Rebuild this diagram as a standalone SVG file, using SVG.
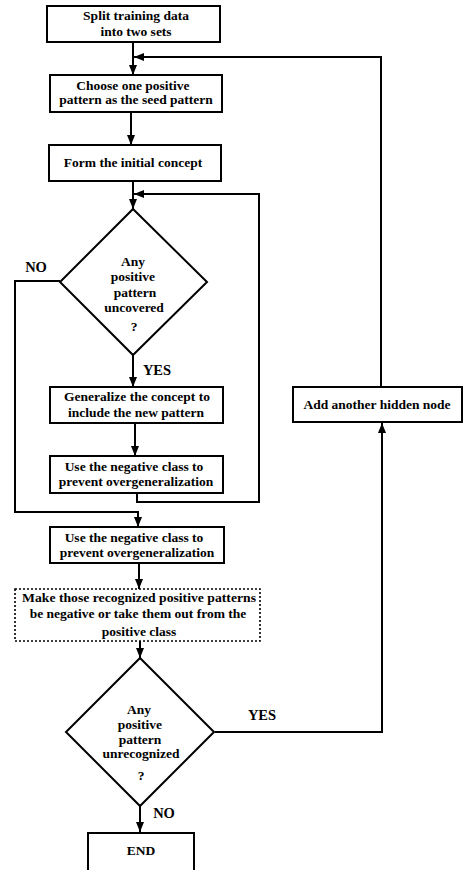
<svg xmlns="http://www.w3.org/2000/svg" width="463" height="870" viewBox="0 0 463 870">
<defs>
<marker id="ah" viewBox="0 0 10 8" refX="10" refY="4" markerWidth="10" markerHeight="8" markerUnits="userSpaceOnUse" orient="auto">
<path d="M0,0 L10,4 L0,8 Z" fill="#000"/>
</marker>
</defs>
<style>
.n{fill:#fff;stroke:#000;stroke-width:2}
.d{fill:#fff;stroke:#000;stroke-width:1.6;stroke-dasharray:2,2}
.c{fill:none;stroke:#000;stroke-width:2}
text{font-family:"Liberation Serif","DejaVu Serif",serif;font-weight:bold;font-size:13.5px;fill:#000;text-anchor:middle}
.lb{font-size:14.5px}
</style>
<rect width="463" height="870" fill="#fff"/>
<g id="connectors">
<path class="c" d="M133,42 V75" marker-end="url(#ah)"/>
<path class="c" d="M381,387 V57 H134" marker-end="url(#ah)"/>
<path class="c" d="M131,112 V145" marker-end="url(#ah)"/>
<path class="c" d="M133,181 V209" marker-end="url(#ah)"/>
<path class="c" d="M137,493 V502 H259 V194 H134" marker-end="url(#ah)"/>
<path class="c" d="M60,281 H15 V512 H138 V527" marker-end="url(#ah)"/>
<path class="c" d="M133,355 V387" marker-end="url(#ah)"/>
<path class="c" d="M135,423 V456" marker-end="url(#ah)"/>
<path class="c" d="M139,563 V589" marker-end="url(#ah)"/>
<path class="c" d="M140,641 V658" marker-end="url(#ah)"/>
<path class="c" d="M215,732 H382 V423" marker-end="url(#ah)"/>
<path class="c" d="M140,806 V832" marker-end="url(#ah)"/>
<text class="lb" x="36" y="272">NO</text>
<text class="lb" x="157" y="375">YES</text>
<text class="lb" x="262" y="720">YES</text>
<text class="lb" x="164" y="818">NO</text>
</g>
<g id="split">
<rect class="n" x="47" y="6" width="173" height="36"/>
<text x="136" y="20">Split training data</text>
<text x="136" y="36">into two sets</text>
</g>
<g id="choose">
<rect class="n" x="50" y="75" width="172" height="37"/>
<text x="133" y="90">Choose one positive</text>
<text x="136" y="104">pattern as the seed pattern</text>
</g>
<g id="form">
<rect class="n" x="49" y="145" width="172" height="36"/>
<text x="133" y="167">Form the initial concept</text>
</g>
<g id="uncovered">
<polygon class="n" points="133,209 207,282 133,355 60,282"/>
<text x="133" y="266">Any</text>
<text x="133" y="281">positive</text>
<text x="135" y="297">pattern</text>
<text x="134" y="312">uncovered</text>
<text x="134" y="331">?</text>
</g>
<g id="generalize">
<rect class="n" x="50" y="387" width="173" height="36"/>
<text x="137" y="401">Generalize the concept to</text>
<text x="136" y="417">include the new pattern</text>
</g>
<g id="negative1">
<rect class="n" x="50" y="456" width="173" height="37"/>
<text x="134" y="471">Use the negative class to</text>
<text x="136" y="486">prevent overgeneralization</text>
</g>
<g id="negative2">
<rect class="n" x="50" y="527" width="174" height="36"/>
<text x="134" y="542">Use the negative class to</text>
<text x="137" y="557">prevent overgeneralization</text>
</g>
<g id="make">
<rect class="d" x="15" y="589" width="245" height="52"/>
<text x="139" y="602" textLength="234" lengthAdjust="spacingAndGlyphs">Make those recognized positive patterns</text>
<text x="138" y="618">be negative or take them out from the</text>
<text x="139" y="636">positive class</text>
</g>
<g id="unrecognized">
<polygon class="n" points="140,658 214,732 140,806 66,732"/>
<text x="139" y="714">Any</text>
<text x="140" y="729">positive</text>
<text x="140" y="744">pattern</text>
<text x="141" y="758">unrecognized</text>
<text x="141" y="780">?</text>
</g>
<g id="hidden">
<rect class="n" x="293" y="387" width="169" height="35"/>
<text x="377" y="409">Add another hidden node</text>
</g>
<g id="end">
<rect class="n" x="88" y="833" width="106" height="42"/>
<text x="141" y="855">END</text>
</g>
</svg>
